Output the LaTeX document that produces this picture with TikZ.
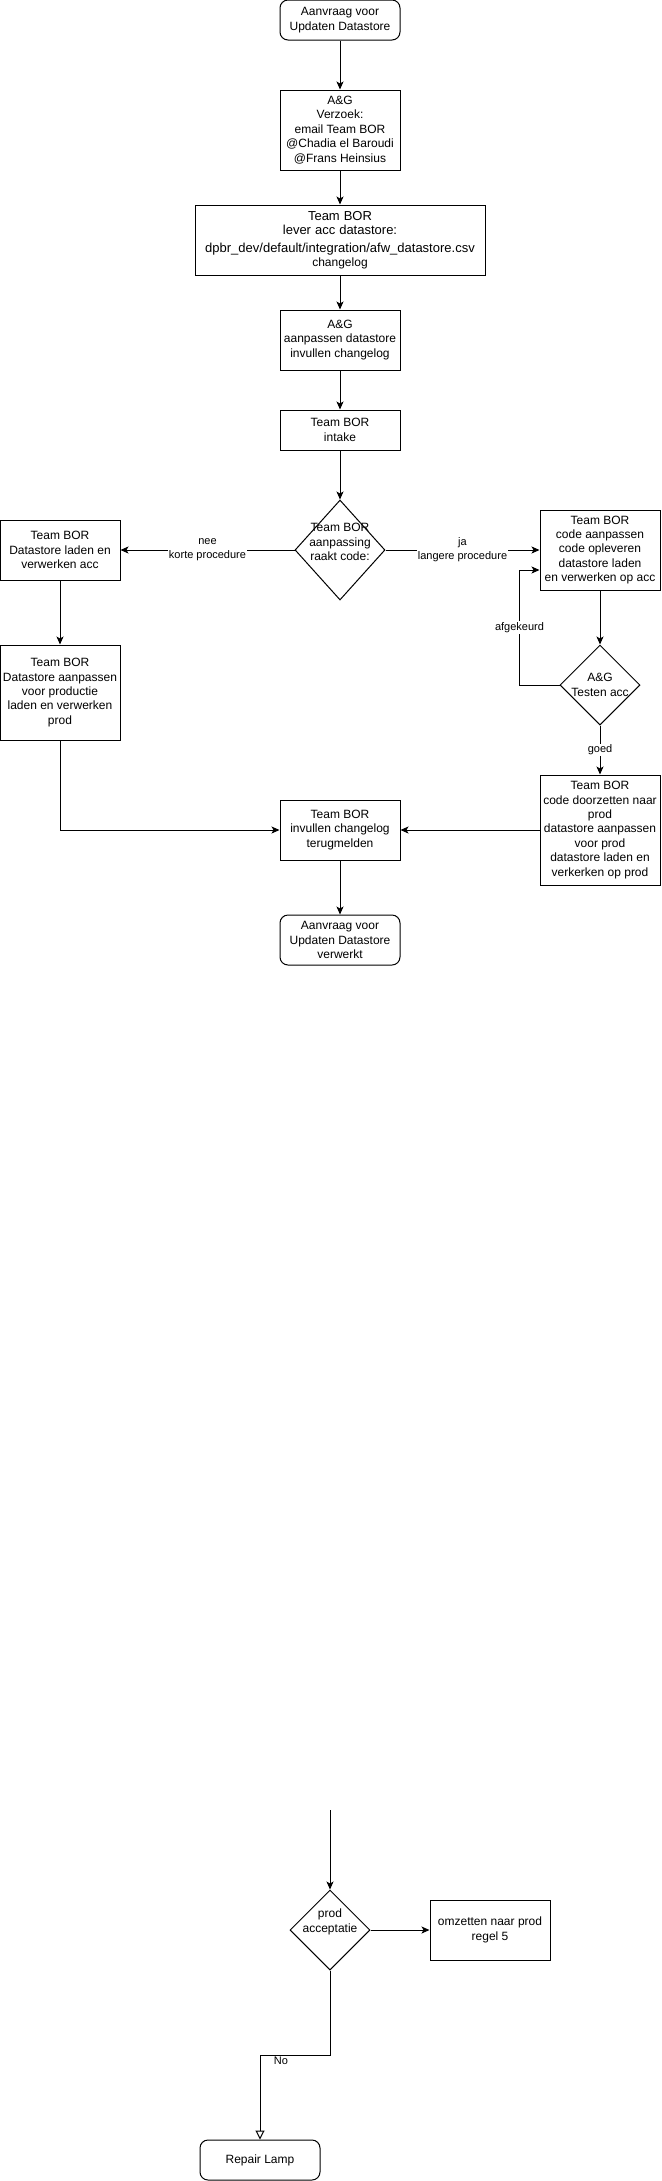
\documentclass[tikz,border=0pt]{standalone}
\usepackage{xcolor}
\usepackage{fontspec}
\setmainfont{Liberation Sans}
\usetikzlibrary{shapes.geometric,arrows.meta}

\tikzset{
	procbox/.style={draw, line width=0.75pt, rectangle, align=center, inner sep=0.75pt, font=\fontsize{9}{10.8}\selectfont},
	endbox/.style={procbox, rounded corners=6pt},
	decbox/.style={draw, line width=0.75pt, diamond, inner sep=0pt},
	dectext/.style={align=center, inner sep=0pt, font=\fontsize{9}{10.8}\selectfont},
	flow/.style={line width=0.75pt, -{Stealth[length=6pt,width=5.25pt,inset=1.5pt]}},
	hollowflow/.style={line width=0.75pt, -{Triangle[open,length=6.75pt,width=6.75pt]}},
	edgetext/.style={fill=white, align=center, inner sep=1pt, font=\fontsize{8.25}{10.5}\selectfont}
}

\begin{document}
\begin{tikzpicture}[x=0.75pt,y=0.75pt,yscale=-1,xscale=1]
	\useasboundingbox (0,0) rectangle (661,2181);
	
	%Shape: Rounded Rectangle 
	\node [endbox, minimum width=90pt, minimum height=30pt] (start) at (340,20) {Aanvraag voor\\Updaten Datastore};
	%Shape: Rectangle 
	\node [procbox, minimum width=90pt, minimum height=60pt] (verzoek) at (340,130) {A\&G\\Verzoek:\\email Team BOR\\@Chadia el Baroudi\\@Frans Heinsius};
	%Shape: Rectangle 
	\node [procbox, minimum width=217.5pt, minimum height=52.5pt, text width=212pt] (lever) at (340,240) {\fontsize{9.75}{11}\selectfont Team BOR\\lever acc datastore:\\[2pt]dpbr\_dev/default/integration/afw\_datastore.csv\\\fontsize{9}{10}\selectfont changelog};
	%Shape: Rectangle 
	\node [procbox, minimum width=90pt, minimum height=45pt] (aanpassen) at (340,340) {A\&G\\aanpassen datastore\\invullen changelog};
	%Shape: Rectangle 
	\node [procbox, minimum width=90pt, minimum height=30pt] (intake) at (340,430) {Team BOR\\intake};
	%Shape: Diamond 
	\node [decbox, minimum width=67.5pt, minimum height=75pt, label={[dectext, yshift=6pt]center:{Team BOR\\aanpassing\\raakt code:}}] (raakt) at (340,550) {};
	
	%Shape: Rectangle 
	\node [procbox, minimum width=90pt, minimum height=45pt] (kortacc) at (60,550) {Team BOR\\Datastore laden en\\verwerken acc};
	%Shape: Rectangle 
	\node [procbox, minimum width=90pt, minimum height=71.25pt] (kortprod) at (60,692.5) {Team BOR\\Datastore aanpassen\\voor productie\\laden en verwerken\\prod};
	
	%Shape: Rectangle 
	\node [procbox, minimum width=90pt, minimum height=60pt] (langacc) at (600,550) {Team BOR\\code aanpassen\\code opleveren\\datastore laden\\en verwerken op acc};
	%Shape: Diamond 
	\node [decbox, minimum width=60pt, minimum height=60pt, label={[dectext]center:{A\&G\\Testen acc}}] (testen) at (600,685) {};
	%Shape: Rectangle 
	\node [procbox, minimum width=90pt, minimum height=82.5pt] (langprod) at (600,830) {Team BOR\\code doorzetten naar\\prod\\datastore aanpassen\\voor prod\\datastore laden en\\verkerken op prod};
	
	%Shape: Rectangle 
	\node [procbox, minimum width=90pt, minimum height=45pt] (changelog) at (340,830) {Team BOR\\invullen changelog\\terugmelden};
	%Shape: Rounded Rectangle 
	\node [endbox, minimum width=90pt, minimum height=37.5pt] (verwerkt) at (340,940) {Aanvraag voor\\Updaten Datastore\\verwerkt};
	
	%Shape: Diamond 
	\coordinate (prodin) at (330,1810);
	\node [decbox, minimum width=60pt, minimum height=60pt, label={[dectext, yshift=6pt]center:{prod\\acceptatie}}] (prodacc) at (330,1930) {};
	%Shape: Rectangle 
	\node [procbox, minimum width=90pt, minimum height=45pt] (omzetten) at (490,1930) {omzetten naar prod\\regel 5};
	%Shape: Rounded Rectangle 
	\node [endbox, minimum width=90pt, minimum height=30pt] (repair) at (260,2160) {Repair Lamp};
	
	%Straight Lines 
	\draw [flow] (start) -- (verzoek);
	\draw [flow] (verzoek) -- (lever);
	\draw [flow] (lever) -- (aanpassen);
	\draw [flow] (aanpassen) -- (intake);
	\draw [flow] (intake) -- (raakt);
	\draw [flow] (raakt.west) -- node [edgetext] {nee\\korte procedure} (kortacc.east);
	\draw [flow] (raakt.east) -- node [edgetext] {ja\\langere procedure} (langacc.west);
	\draw [flow] (kortacc) -- (kortprod);
	\draw [flow] (kortprod.south) |- (changelog.west);
	\draw [flow] (langacc) -- (testen);
	\draw [flow] (testen.west) -- ++(-40,0) |- node [edgetext, pos=0.25] {afgekeurd} ([yshift=15pt]langacc.west);
	\draw [flow] (testen.south) -- node [edgetext] {goed} (langprod.north);
	\draw [flow] (langprod.west) -- (changelog.east);
	\draw [flow] (changelog) -- (verwerkt);
	
	\draw [flow] (prodin) -- (prodacc.north);
	\draw [flow] (prodacc.east) -- (omzetten.west);
	\draw [hollowflow] (prodacc.south) -- ++(0,85) -| node [edgetext, fill=none, anchor=north, pos=0.35] {No} (repair.north);
	
\end{tikzpicture}
\end{document}
